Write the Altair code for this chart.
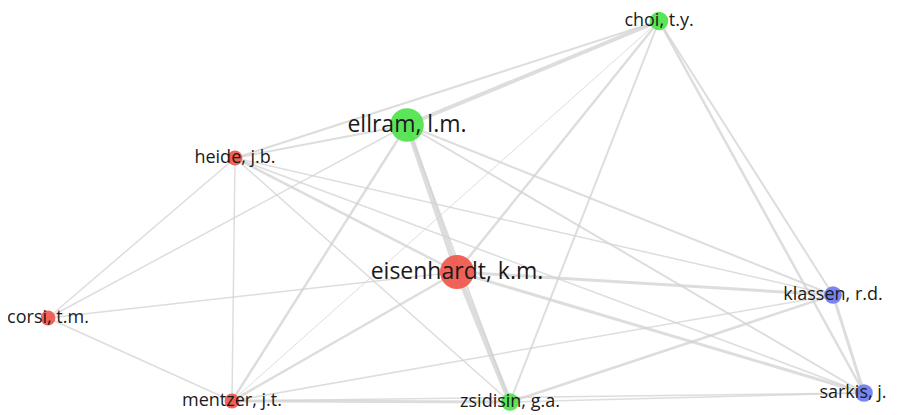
import altair as alt
import pandas as pd

# Node data (layout coordinates, cluster, weight)
names = ["eisenhardt, k.m.", "ellram, l.m.", "choi, t.y.", "heide, j.b.", "corsi, t.m.",
         "mentzer, j.t.", "zsidisin, g.a.", "klassen, r.d.", "sarkis, j."]
layout_x = [457, 407, 659, 235, 48, 232, 510, 833, 864]
layout_y = [272, 125, 21, 158, 318, 401, 402, 295, 393]
clusters = [1, 2, 2, 1, 1, 1, 2, 3, 3]
weights = [37, 36, 11, 7, 7, 7, 10, 10, 10]

# Links (source, target, strength)
link_source = ["ellram, l.m.", "eisenhardt, k.m.", "ellram, l.m.", "mentzer, j.t.", "eisenhardt, k.m.",
               "eisenhardt, k.m.", "klassen, r.d.", "zsidisin, g.a.", "ellram, l.m.", "eisenhardt, k.m.",
               "eisenhardt, k.m.", "heide, j.b.", "ellram, l.m.", "heide, j.b.", "choi, t.y.",
               "choi, t.y.", "choi, t.y.", "ellram, l.m.", "ellram, l.m.", "ellram, l.m.",
               "heide, j.b.", "heide, j.b.", "corsi, t.m.", "corsi, t.m.", "corsi, t.m.",
               "heide, j.b.", "heide, j.b.", "heide, j.b.", "mentzer, j.t.", "mentzer, j.t.",
               "mentzer, j.t.", "zsidisin, g.a."]
link_target = ["eisenhardt, k.m.", "zsidisin, g.a.", "choi, t.y.", "zsidisin, g.a.", "klassen, r.d.",
               "sarkis, j.", "sarkis, j.", "klassen, r.d.", "mentzer, j.t.", "mentzer, j.t.",
               "choi, t.y.", "eisenhardt, k.m.", "heide, j.b.", "choi, t.y.", "klassen, r.d.",
               "sarkis, j.", "zsidisin, g.a.", "klassen, r.d.", "sarkis, j.", "zsidisin, g.a.",
               "mentzer, j.t.", "corsi, t.m.", "ellram, l.m.", "eisenhardt, k.m.", "mentzer, j.t.",
               "klassen, r.d.", "sarkis, j.", "zsidisin, g.a.", "choi, t.y.", "klassen, r.d.",
               "sarkis, j.", "sarkis, j."]
link_strength = [5, 5, 4, 3, 3,
                 3, 3, 2.5, 2.5, 2.5,
                 2.5, 2.5, 2, 2, 2,
                 2.5, 2, 2, 2, 2,
                 1.5, 1.5, 1.5, 1.5, 1.5,
                 1.5, 1.5, 1.5, 1, 1.5,
                 1.5, 1.5]

nodes = pd.DataFrame({"name": names, "x": layout_x, "y": layout_y,
                      "cluster": [str(c) for c in clusters], "weight": weights})
nodes["tier"] = ["major" if w > 20 else "minor" for w in weights]
pos = {n: (x, y) for n, x, y in zip(names, layout_x, layout_y)}
links = pd.DataFrame({"s": link_source, "t": link_target, "w": link_strength})
links["x"] = [pos[s][0] for s in links.s]
links["y"] = [pos[s][1] for s in links.s]
links["x2"] = [pos[t][0] for t in links.t]
links["y2"] = [pos[t][1] for t in links.t]
links = links.sort_values("w")

xs = alt.Scale(domain=[8, 889], range=[0, 881], nice=False, zero=False)
ys = alt.Scale(domain=[8, 415], range=[0, 407], nice=False, zero=False)

edges = alt.Chart(links).mark_rule(color="#d2d2d2", opacity=0.75, strokeCap="round").encode(
    x=alt.X("x:Q", scale=xs, axis=None),
    y=alt.Y("y:Q", scale=ys, axis=None),
    x2="x2:Q", y2="y2:Q",
    strokeWidth=alt.StrokeWidth("w:Q", scale=alt.Scale(domain=[1, 5], range=[1, 5]), legend=None),
)

circles = alt.Chart(nodes).mark_circle(opacity=0.92).encode(
    x=alt.X("x:Q", scale=xs, axis=None),
    y=alt.Y("y:Q", scale=ys, axis=None),
    size=alt.Size("weight:Q", scale=alt.Scale(domain=[0, 37], range=[0, 1160], zero=True), legend=None),
    color=alt.Color("cluster:N", scale=alt.Scale(domain=["1", "2", "3"],
                                                  range=["#f0554a", "#4ee34b", "#6b7cf3"]), legend=None),
)

label_enc = dict(
    x=alt.X("x:Q", scale=xs, axis=None),
    y=alt.Y("y:Q", scale=ys, axis=None),
    text="name:N",
    size=alt.Size("tier:N", scale=alt.Scale(domain=["major", "minor"], range=[23, 18]), legend=None),
)

labels = alt.Chart(nodes).mark_text(
    font="Open Sans", color="#1a1a1a", baseline="middle", align="center"
).encode(**label_enc).transform_filter("datum.x < 850")

# labels near the right edge are nudged inward so they stay fully visible
labels_edge = alt.Chart(nodes).mark_text(
    font="Open Sans", color="#1a1a1a", baseline="middle", align="center", dx=-11
).encode(**label_enc).transform_filter("datum.x >= 850")

chart = (edges + circles + labels + labels_edge).properties(
    width=881, height=407, padding=0, autosize=alt.AutoSizeParams(type="none")
).configure_view(stroke=None).resolve_scale(size="independent")

chart.save("out.html", embed_options={"renderer": "svg", "actions": False})
